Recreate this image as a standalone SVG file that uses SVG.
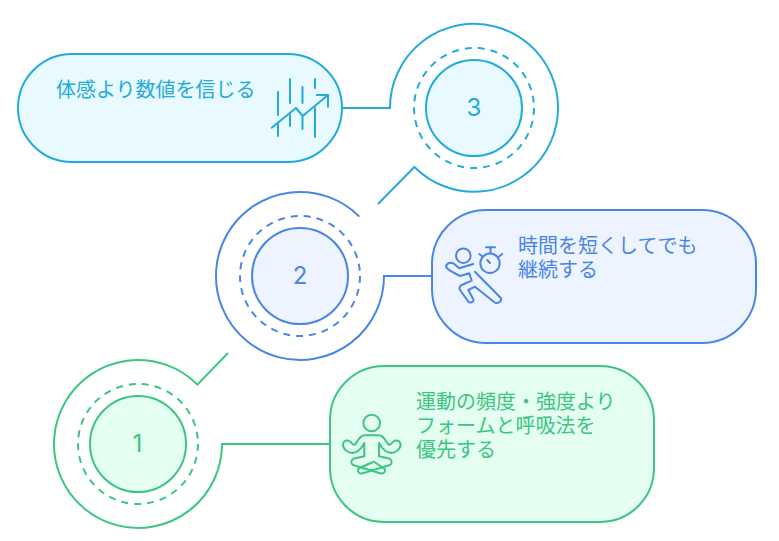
<svg xmlns="http://www.w3.org/2000/svg" width="779" height="541" viewBox="0 0 779 541">
<style>
text{font-family:"Inter","Noto Sans CJK JP","Noto Sans",sans-serif}
.l{font-size:20px;font-family:"Noto Sans CJK JP","Noto Sans",sans-serif}
.n{font-size:24px;text-anchor:middle;dominant-baseline:central}
.ln,.i{fill:none;stroke-width:2;stroke-linecap:round;stroke-linejoin:round}
.ln{stroke-linecap:butt;stroke-linejoin:miter}
.d{fill:none;stroke-width:2;stroke-dasharray:7 6}
.teal{stroke:#22abdb}.blue{stroke:#4a86e4}.green{stroke:#3cc583}
.ft{fill:#e8f9ff}.fb{fill:#edf3ff}.fg{fill:#e4fef1}
.tt{fill:#22abdb}.tb{fill:#4a86e4}.tg{fill:#3cc583}
.b{stroke-width:2}
</style>
<g id="connectors">
<path class="ln teal" d="M342 108H390A84 84 0 1 1 414.4 167L378 204"/>
<path class="ln blue" d="M432 276H384A84 84 0 1 1 359.4 216.6"/>
<path class="ln green" d="M330 444H222A84 84 0 1 1 197.4 384.6L228 353"/>
</g>
<g id="node-3">
<circle class="d teal" cx="474" cy="108" r="60"/>
<circle class="b teal ft" cx="474" cy="108" r="48"/>
<text class="n tt" x="474" y="107.5">3</text>
</g>
<g id="card-3">
<rect class="b teal ft" x="18" y="54" width="324" height="108" rx="54"/>
<text class="l tt" x="56" y="97">体感より数値を信じる</text>
<g class="i teal">
<path d="M278 92V115M278 123V136M290 79V103M290 115V126M302.5 87V103M302.5 117V129M315 79V88M315 108V137"/>
<path d="M271.7 127.7L296 108L302.7 116L328 95M316.7 95H328V106.7"/>
</g>
</g>
<g id="node-2">
<circle class="d blue" cx="300" cy="276" r="60"/>
<circle class="b blue fb" cx="300" cy="276" r="48"/>
<text class="n tb" x="300" y="275.5">2</text>
</g>
<g id="card-2">
<rect class="b blue fb" x="432" y="210" width="324" height="133" rx="54"/>
<text class="l tb" x="518" y="253">時間を短くしてでも</text>
<text class="l tb" x="518" y="277">継続する</text>
<g class="i blue">
<circle cx="463.3" cy="255.7" r="7.3"/>
<circle cx="490" cy="263.3" r="9.7"/>
<path d="M486 247.3H495M490.5 247.3V253.6M479.3 254L482.7 256.7M502.3 254L498.7 256.7M487.3 260L490 263"/>
<path d="M473.3 264L459.3 268.3L453.3 263.3C449 261.5 444.7 265 446.7 268L450 270.7L460 276L469.3 273.3L471.7 280.7L461.7 285C459.5 286 459 288.5 460 290L468.3 301.7C470.5 303.5 474.5 301.5 473.3 299.3L468.3 290L475 286.7L495 302.7C498 304 502 301 501 298.3L475 271.7"/>
</g>
</g>
<g id="node-1">
<circle class="d green" cx="138" cy="444" r="60"/>
<circle class="b green fg" cx="138" cy="444" r="48"/>
<text class="n tg" x="137.5" y="443.5">1</text>
</g>
<g id="card-1">
<rect class="b green fg" x="330" y="366" width="324" height="156" rx="54"/>
<text class="l tg" x="416" y="409">運動の頻度・強度より</text>
<text class="l tg" x="416" y="433">フォームと呼吸法を</text>
<text class="l tg" x="416" y="457">優先する</text>
<g class="i green">
<circle cx="371.7" cy="423" r="8.3"/>
<path d="M364.3 456.3V443C363 446 361 449 358 451C355 453 351 453.5 347.5 451.5C343.5 449 342 445 343.5 442.5C345 440 348 440 350 441.5C352 443 353 446 355 444.5C358 441 360 435.3 364.3 435.3H379C383.3 435.3 385.5 441 388.5 444.5C390.5 446 391.5 443 393.5 441.5C395.5 440 398.5 440 400 442.5C401.5 445 400 449 396 451.5C392.5 453.5 388.5 453 385.5 451C382.5 449 380.5 446 379 443V456.3"/>
<path d="M379 456.3L389 458.5C392 459.5 392.5 463.5 390 465L362 473.5C358 474 356.5 469.5 359.5 468L372 462.5M364.3 456.3L354 458.5C351 459.5 350.5 463.5 353 465L381 473.5C385 474 386.5 469.5 383.5 468L373.5 461.5"/>
</g>
</g>
</svg>
